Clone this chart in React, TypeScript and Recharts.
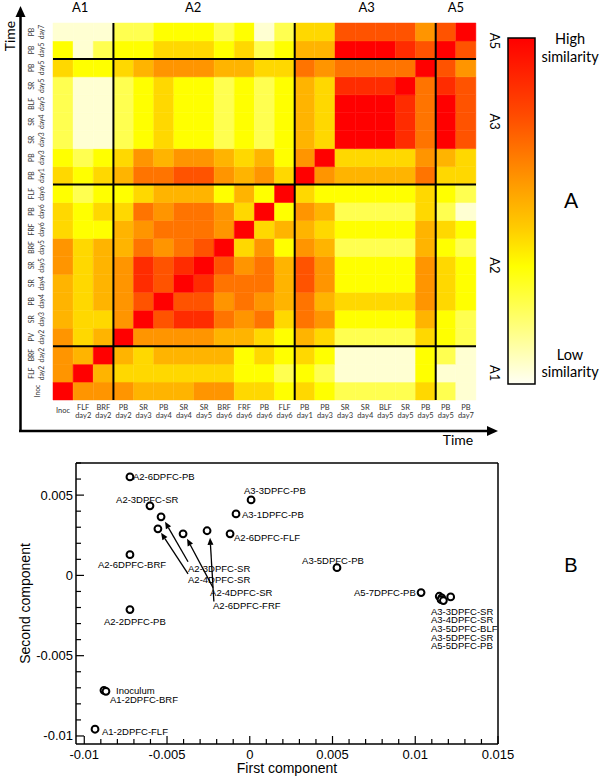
import React from 'react';
import { BarChart, Bar, Cell, XAxis, YAxis, ReferenceLine, ReferenceArea, ScatterChart, Scatter } from 'recharts';

// ---- panel A: similarity heatmap ----
// columns, left to right
const colNames = ['Inoc', 'FLF', 'BRF', 'PB', 'SR', 'PB', 'SR', 'SR', 'BRF', 'FRF', 'PB', 'FLF', 'PB', 'PB', 'SR', 'SR', 'BLF', 'SR', 'PB', 'PB', 'PB'];
const colDays = ['', 'day2', 'day2', 'day2', 'day3', 'day4', 'day4', 'day5', 'day6', 'day6', 'day6', 'day6', 'day1', 'day3', 'day3', 'day4', 'day5', 'day5', 'day5', 'day5', 'day7'];
// rows, bottom to top
const rowNames = ['Inoc', 'FLF', 'BRF', 'PV', 'SR', 'PB', 'SR', 'SR', 'BRF', 'FRF', 'PB', 'FLF', 'PB', 'PB', 'SR', 'SR', 'BLF', 'SR', 'PB', 'PB', 'PB'];
const rowDays = ['', 'day2', 'day2', 'day2', 'day3', 'day4', 'day4', 'day5', 'day5', 'day6', 'day6', 'day6', 'day1', 'day3', 'day3', 'day4', 'day5', 'day5', 'day5', 'day5', 'day7'];

// similarity level 0 (low) .. 9 (high); rows listed top (PB day7) to bottom (Inoc)
const similarity = [
  [0, 0, 0, 1, 1, 2, 2, 2, 1, 2, 0, 1, 3, 3, 7, 7, 7, 7, 5, 7, 9],
  [2, 0, 1, 2, 2, 3, 3, 3, 2, 3, 1, 2, 4, 4, 9, 9, 9, 8, 7, 9, 7],
  [3, 2, 2, 3, 4, 5, 5, 5, 4, 4, 3, 3, 6, 5, 6, 6, 6, 6, 9, 7, 5],
  [1, 0, 0, 1, 2, 3, 2, 2, 1, 2, 1, 2, 4, 3, 8, 8, 8, 9, 6, 8, 7],
  [1, 0, 0, 1, 2, 3, 2, 2, 1, 2, 1, 2, 4, 3, 9, 9, 9, 8, 6, 9, 7],
  [1, 0, 0, 1, 2, 3, 2, 2, 1, 2, 1, 2, 4, 3, 9, 9, 9, 8, 6, 9, 7],
  [1, 0, 0, 1, 2, 3, 2, 2, 1, 2, 1, 2, 4, 3, 9, 9, 9, 8, 6, 9, 7],
  [2, 1, 2, 3, 5, 4, 5, 5, 4, 3, 4, 2, 5, 9, 3, 3, 3, 3, 5, 4, 3],
  [3, 2, 3, 4, 6, 6, 7, 7, 5, 4, 5, 3, 9, 5, 4, 4, 4, 4, 6, 3, 3],
  [2, 1, 2, 2, 3, 4, 4, 4, 2, 4, 2, 9, 3, 2, 2, 2, 2, 2, 3, 2, 1],
  [3, 2, 3, 3, 6, 5, 6, 6, 5, 3, 9, 2, 5, 4, 1, 1, 1, 1, 3, 1, 0],
  [3, 2, 2, 4, 5, 6, 6, 6, 5, 9, 3, 4, 4, 3, 2, 2, 2, 2, 4, 3, 2],
  [5, 3, 4, 4, 6, 5, 6, 7, 9, 3, 5, 2, 5, 4, 1, 1, 1, 1, 4, 2, 1],
  [5, 3, 4, 5, 8, 7, 8, 9, 7, 5, 6, 4, 7, 5, 2, 2, 2, 2, 5, 3, 2],
  [4, 3, 4, 5, 8, 7, 9, 8, 6, 6, 6, 4, 7, 5, 2, 2, 2, 2, 5, 3, 2],
  [4, 3, 4, 5, 7, 9, 7, 7, 5, 6, 5, 4, 6, 4, 3, 3, 3, 3, 5, 3, 2],
  [4, 3, 3, 5, 9, 7, 8, 8, 6, 5, 6, 3, 6, 5, 2, 2, 2, 2, 4, 2, 1],
  [5, 3, 4, 9, 5, 5, 5, 5, 4, 4, 3, 2, 4, 3, 1, 1, 1, 1, 3, 2, 1],
  [5, 4, 9, 4, 3, 4, 4, 4, 4, 2, 3, 2, 3, 2, 0, 0, 0, 0, 2, 1, 0],
  [5, 9, 4, 3, 3, 3, 3, 3, 3, 2, 2, 1, 2, 1, 0, 0, 0, 0, 2, 0, 0],
  [9, 5, 5, 5, 4, 4, 4, 5, 5, 3, 3, 2, 3, 2, 1, 1, 1, 1, 3, 1, 0],
];

// groups: first and last column / row index of each
const groupNames = ['A1', 'A2', 'A3', 'A5'];
const groupStart = [0, 3, 12, 19];
const groupEnd = [2, 11, 18, 20];
const groupLabelFrac = [0.45, 0.44, 0.51, 0.5];
const groupLabelY = [1.5, 7.5, 15.5, 20];

const palette = ['#FFFFD2', '#FFFF50', '#FFFF00', '#FFD800', '#FFB400', '#FF9500', '#FF7400', '#FF5300', '#FF2C00', '#FF0000'];

const heatData = colNames.map((_, c) => {
  const d: any = { col: c };
  rowNames.forEach((__, r) => { d['r' + r] = 1; });
  return d;
});
const rowTicks = rowNames.map((_, i) => i + 0.5);

// ---- panel B: PCA scores ----
const pcNames = ['A2-6DPFC-PB', 'A2-3DPFC-SR', 'A2-3DPFC-SR', 'A2-4DPFC-SR', 'A2-4DPFC-SR', 'A2-6DPFC-FRF', 'A2-6DPFC-FLF', 'A3-3DPFC-PB', 'A3-1DPFC-PB', 'A2-6DPFC-BRF', 'A3-5DPFC-PB', 'A5-7DPFC-PB', 'A3-3DPFC-SR', 'A3-4DPFC-SR', 'A3-5DPFC-BLF', 'A3-5DPFC-SR', 'A5-5DPFC-PB', 'A2-2DPFC-PB', 'Inoculum', 'A1-2DPFC-BRF', 'A1-2DPFC-FLF'];
const pc1 = [-0.00724, -0.00603, -0.00536, -0.00555, -0.00403, -0.00258, -0.00119, 0.00008, -0.00083, -0.00724, 0.00527, 0.01035, 0.01145, 0.0116, 0.01156, 0.0117, 0.01214, -0.00724, -0.00881, -0.00869, -0.00935];
const pc2 = [0.00613, 0.00433, 0.00365, 0.0029, 0.00259, 0.00278, 0.00259, 0.0047, 0.00383, 0.00129, 0.00048, -0.00107, -0.0013, -0.0014, -0.00151, -0.00157, -0.00134, -0.00213, -0.00716, -0.00722, -0.00958];

const labelText = ['A2-6DPFC-PB', 'A2-3DPFC-SR', 'A3-3DPFC-PB', 'A3-1DPFC-PB', 'A2-6DPFC-FLF', 'A2-6DPFC-BRF', 'A3-5DPFC-PB', 'A5-7DPFC-PB', 'A3-3DPFC-SR', 'A3-4DPFC-SR', 'A3-5DPFC-BLF', 'A3-5DPFC-SR', 'A5-5DPFC-PB', 'A2-3DPFC-SR', 'A2-4DPFC-SR', 'A2-4DPFC-SR', 'A2-6DPFC-FRF', 'A2-2DPFC-PB', 'Inoculum', 'A1-2DPFC-BRF', 'A1-2DPFC-FLF'];
const labelX = [-0.00706, -0.00808, -0.00035, -0.00047, -0.00095, -0.00917, 0.00316, 0.0063, 0.01095, 0.01095, 0.01095, 0.01095, 0.01095, -0.00373, -0.00373, -0.0024, -0.00222, -0.00881, -0.00808, -0.00845, -0.00893];
const labelY = [0.00619, 0.0047, 0.00526, 0.00377, 0.00234, 0.00066, 0.00091, -0.00107, -0.00225, -0.00275, -0.00331, -0.00387, -0.00437, 0.00042, -0.00027, -0.00107, -0.00188, -0.00288, -0.00716, -0.00772, -0.00971];

const arrowTails = [[-0.00373, 0.00085], [-0.00373, 0.0001], [-0.00222, -0.00076], [-0.00217, -0.00163]];
const arrowHeads = [[-0.00512, 0.00334], [-0.00536, 0.00265], [-0.00379, 0.00228], [-0.0024, 0.00234]];

const xTicks = [-0.01, -0.009, -0.008, -0.007, -0.006, -0.005, -0.004, -0.003, -0.002, -0.001, 0, 0.001, 0.002, 0.003, 0.004, 0.005, 0.006, 0.007, 0.008, 0.009, 0.01, 0.011, 0.012, 0.013, 0.014, 0.015];
const yTicks = [-0.01, -0.009, -0.008, -0.007, -0.006, -0.005, -0.004, -0.003, -0.002, -0.001, 0, 0.001, 0.002, 0.003, 0.004, 0.005, 0.006, 0.007];

const scatterData = pcNames.map((name, i) => ({ x: pc1[i], y: pc2[i], name }));
const labelData = labelText.map((text, i) => ({ x: labelX[i], y: labelY[i], text }));

const heatFont = 'Lato, "Open Sans", sans-serif';
const plotFont = '"Liberation Sans", Arial, sans-serif';

const ColTick = (props: any) => {
  const { x, y, payload } = props;
  const c = payload.value;
  return (
    <g fontFamily={heatFont} fontSize={7.5} fill="#333">
      {colDays[c] ? (
        <>
          <text x={x} y={y + 9.5} textAnchor="middle">{colNames[c]}</text>
          <text x={x} y={y + 17.5} textAnchor="middle">{colDays[c]}</text>
        </>
      ) : (
        <text x={x} y={y + 13} textAnchor="middle">{colNames[c]}</text>
      )}
    </g>
  );
};

const RowTick = (props: any) => {
  const { x, y, payload } = props;
  const r = Math.floor(payload.value);
  return (
    <g transform={`translate(${x},${y}) rotate(-90)`} fontFamily={heatFont} fontSize={6.8} fill="#333">
      {rowDays[r] ? (
        <>
          <text x={0} y={-19.5} textAnchor="middle">{rowNames[r]}</text>
          <text x={0} y={-9.5} textAnchor="middle">{rowDays[r]}</text>
        </>
      ) : (
        <text x={0} y={-13} textAnchor="middle">{rowNames[r]}</text>
      )}
    </g>
  );
};

const GroupSideTick = (props: any) => {
  const { x, y, payload } = props;
  return (
    <text transform={`translate(${x + 19},${y}) rotate(90)`} textAnchor="middle" dominantBaseline="central"
      fontFamily={heatFont} fontSize={13} fill="#000">
      {groupNames[groupLabelY.indexOf(payload.value)]}
    </text>
  );
};

const isMajor = (v: number) => Math.abs(v * 200 - Math.round(v * 200)) < 1e-6;

const BottomTick = (props: any) => {
  const { x, y, payload } = props;
  const major = isMajor(payload.value);
  return (
    <g>
      <line x1={x} y1={y} x2={x} y2={y - (major ? 8 : 5)} stroke="#000" strokeWidth={1.2} />
      {major && (
        <text x={x} y={y + 15} textAnchor="middle" fontFamily={plotFont} fontSize={13} fill="#000">
          {String(payload.value)}
        </text>
      )}
    </g>
  );
};

const TopTick = (props: any) => {
  const { x, y, payload } = props;
  const major = isMajor(payload.value);
  return <line x1={x} y1={y} x2={x} y2={y + (major ? 8 : 5)} stroke="#000" strokeWidth={1.2} />;
};

const LeftTick = (props: any) => {
  const { x, y, payload } = props;
  const major = isMajor(payload.value);
  return (
    <g>
      <line x1={x} y1={y} x2={x + (major ? 8 : 5)} y2={y} stroke="#000" strokeWidth={1.2} />
      {major && (
        <text x={x - 3} y={y + 4.5} textAnchor="end" fontFamily={plotFont} fontSize={13} fill="#000">
          {String(payload.value)}
        </text>
      )}
    </g>
  );
};

const RightTick = (props: any) => {
  const { x, y, payload } = props;
  const major = isMajor(payload.value);
  return <line x1={x} y1={y} x2={x - (major ? 8 : 5)} y2={y} stroke="#000" strokeWidth={1.2} />;
};

const Ring = (props: any) => (
  <circle cx={props.cx} cy={props.cy} r={3.4} fill="#fff" stroke="#000" strokeWidth={2} />
);

const PointLabel = (props: any) => (
  <text x={props.cx} y={props.cy} dominantBaseline="central" fontFamily={plotFont} fontSize={9.5} fill="#000">
    {props.payload.text}
  </text>
);

const Arrow = (props: any) => {
  const { x1, y1, x2, y2 } = props;
  const a = Math.atan2(y2 - y1, x2 - x1);
  const L = 7;
  const W = 3;
  const bx = x2 - L * Math.cos(a);
  const by = y2 - L * Math.sin(a);
  const px = -Math.sin(a) * W;
  const py = Math.cos(a) * W;
  return (
    <g>
      <line x1={x1} y1={y1} x2={bx} y2={by} stroke="#000" strokeWidth={1.3} />
      <polygon points={`${x2},${y2} ${bx + px},${by + py} ${bx - px},${by - py}`} fill="#000" />
    </g>
  );
};

export default function App() {
  return (
    <div style={{ position: 'absolute', left: 0, top: 0, width: 600, height: 776, background: '#fff', overflow: 'hidden' }}>
      <div style={{ position: 'absolute', left: 0, top: 0 }}>
        <BarChart width={600} height={430} data={heatData} barCategoryGap={0} barGap={0}
          margin={{ top: 23, right: 94, bottom: 0, left: 20 }}>
          <XAxis dataKey="col" type="category" interval={0} tick={<ColTick />} tickLine={false} axisLine={false}
            tickSize={0} tickMargin={0} height={30} />
          <YAxis type="number" domain={[0, 21]} ticks={rowTicks} interval={0} tick={<RowTick />} tickLine={false}
            axisLine={false} tickSize={0} tickMargin={0} width={33} />
          <YAxis yAxisId="grp" orientation="right" type="number" domain={[0, 21]} allowDataOverflow ticks={groupLabelY}
            tick={<GroupSideTick />} tickLine={false} axisLine={false} tickSize={0} tickMargin={0} width={30} />
          {rowNames.map((_, r) => (
            <Bar key={r} dataKey={'r' + r} stackId="m" isAnimationActive={false}>
              {colNames.map((__, c) => {
                const f = palette[similarity[rowNames.length - 1 - r][c]];
                return <Cell key={c} fill={f} stroke={f} strokeWidth={0.5} />;
              })}
            </Bar>
          ))}
          {groupNames.map((g, i) => (
            <ReferenceArea key={g} x1={groupStart[i]} x2={groupEnd[i]} ifOverflow="visible"
              fill="none" fillOpacity={0} stroke="none"
              label={{
                content: (p: any) => {
                  const vb = p.viewBox;
                  return (
                    <text x={vb.x + vb.width * groupLabelFrac[i]} y={vb.y - 11} textAnchor="middle"
                      fontFamily={heatFont} fontSize={13} fill="#000">{g}</text>
                  );
                },
              }} />
          ))}
          {groupStart.slice(1).map((b) => (
            <ReferenceLine key={'v' + b} x={b} position="start" stroke="#000" strokeWidth={2} />
          ))}
          {groupStart.slice(1).map((b) => (
            <ReferenceLine key={'h' + b} y={b} stroke="#000" strokeWidth={2} />
          ))}
        </BarChart>
      </div>

      <div style={{ position: 'absolute', left: 0, top: 450 }}>
        <ScatterChart width={600} height={326} margin={{ top: 12, right: 101, bottom: 0, left: 0 }}>
          <XAxis dataKey="x" type="number" domain={[-0.0105, 0.015]} ticks={xTicks} interval={0} tick={<BottomTick />}
            tickLine={false} tickSize={0} tickMargin={0} height={32} axisLine={{ stroke: '#000', strokeWidth: 1.5 }}
            label={{ value: 'First component', position: 'insideBottom', offset: 3, fontFamily: plotFont, fontSize: 14, fill: '#000' }} />
          <XAxis xAxisId="t" orientation="top" type="number" domain={[-0.0105, 0.015]} ticks={xTicks} interval={0}
            tick={<TopTick />} tickLine={false} tickSize={0} tickMargin={0} height={1} axisLine={{ stroke: '#000', strokeWidth: 1.5 }} />
          <YAxis dataKey="y" type="number" domain={[-0.0105, 0.007]} ticks={yTicks} interval={0} tick={<LeftTick />}
            tickLine={false} tickSize={0} tickMargin={0} width={76} axisLine={{ stroke: '#000', strokeWidth: 1.5 }}
            label={{
              content: (p: any) => {
                const vb = p.viewBox;
                const cy = vb.y + vb.height / 2;
                return (
                  <text transform={`translate(25,${cy}) rotate(-90)`} textAnchor="middle" dominantBaseline="central"
                    fontFamily={plotFont} fontSize={14} fill="#000">Second component</text>
                );
              },
            }} />
          <YAxis yAxisId="r" orientation="right" type="number" domain={[-0.0105, 0.007]} ticks={yTicks} interval={0}
            tick={<RightTick />} tickLine={false} tickSize={0} tickMargin={0} width={1} axisLine={{ stroke: '#000', strokeWidth: 1.5 }} />
          {arrowTails.map((t, i) => (
            <ReferenceLine key={'a' + i} segment={[{ x: t[0], y: t[1] }, { x: arrowHeads[i][0], y: arrowHeads[i][1] }]}
              shape={<Arrow />} />
          ))}
          <Scatter data={labelData} shape={<PointLabel />} isAnimationActive={false} />
          <Scatter data={scatterData} shape={<Ring />} isAnimationActive={false} />
        </ScatterChart>
      </div>

      <svg width={600} height={776} style={{ position: 'absolute', left: 0, top: 0, pointerEvents: 'none' }}>
        <defs>
          <linearGradient id="simGrad" x1="0" y1="0" x2="0" y2="1">
            <stop offset="0%" stopColor="#FF0000" />
            <stop offset="22%" stopColor="#FF4A00" />
            <stop offset="42%" stopColor="#FF9A00" />
            <stop offset="55%" stopColor="#FFCC00" />
            <stop offset="66%" stopColor="#FFFF00" />
            <stop offset="84%" stopColor="#FFFF80" />
            <stop offset="100%" stopColor="#FFFFF4" />
          </linearGradient>
        </defs>
        <line x1={20.5} y1={432} x2={20.5} y2={14} stroke="#000" strokeWidth={2.5} />
        <polygon points="20.5,6 15.5,17 25.5,17" fill="#000" />
        <line x1={19} y1={431} x2={490} y2={431} stroke="#000" strokeWidth={2.5} />
        <polygon points="498,431 487,426 487,436" fill="#000" />
        <text transform="translate(9,36) rotate(-90)" textAnchor="middle" dominantBaseline="central"
          fontFamily={heatFont} fontSize={14}>Time</text>
        <text x={458} y={445} textAnchor="middle" fontFamily={heatFont} fontSize={14}>Time</text>
        <rect x={508} y={38} width={27} height={346} fill="url(#simGrad)" stroke="#000" strokeWidth={1.5} />
        <g fontFamily={heatFont} fontSize={14.5} textAnchor="middle">
          <text x={570} y={44}>High</text>
          <text x={570} y={62}>similarity</text>
          <text x={570} y={360}>Low</text>
          <text x={570} y={377}>similarity</text>
        </g>
        <text x={571} y={208} textAnchor="middle" fontFamily={heatFont} fontSize={21}>A</text>
        <text x={571} y={572} textAnchor="middle" fontFamily={plotFont} fontSize={20}>B</text>
      </svg>
    </div>
  );
}
